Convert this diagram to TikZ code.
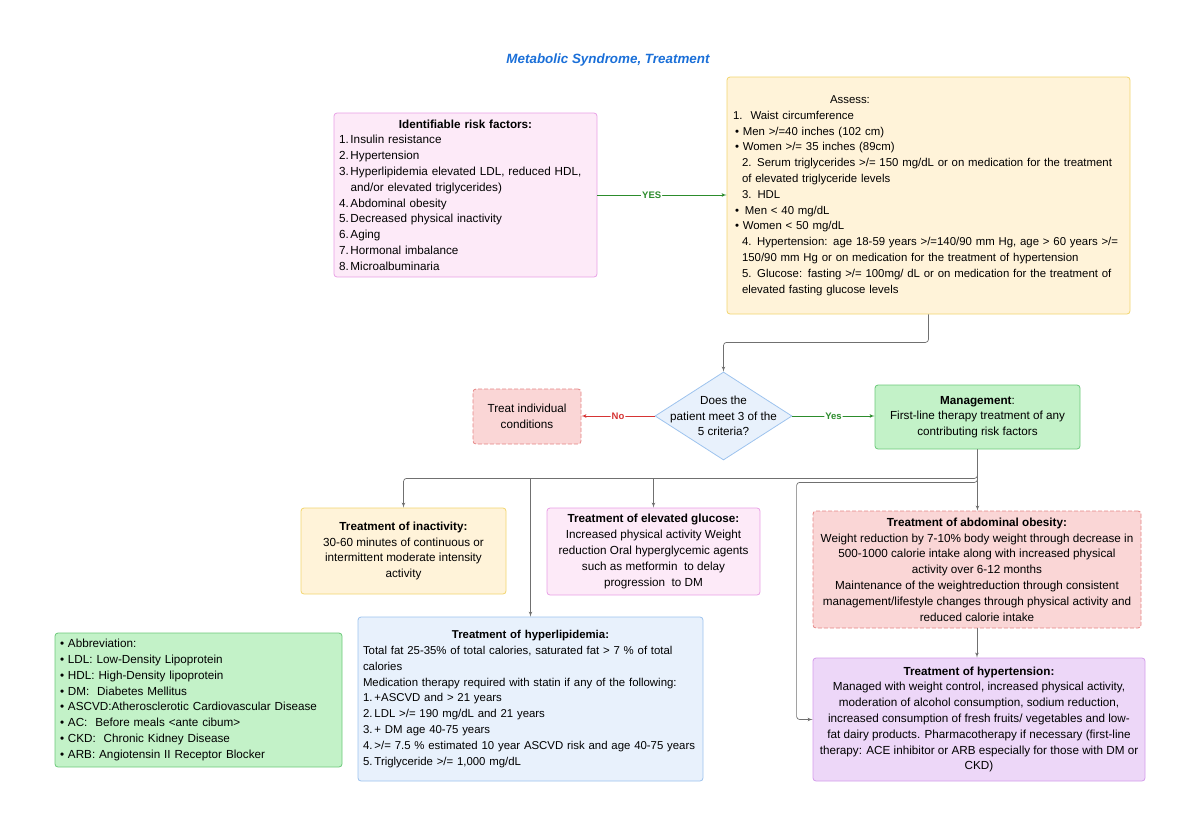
\documentclass[tikz,border=0pt]{standalone}
\usepackage{fontspec}
\setmainfont{Liberation Sans}
\usepackage{tikz}
\usetikzlibrary{shapes,arrows,calc}
\definecolor{creamfill}{HTML}{FFF3D9}
\definecolor{creamline}{HTML}{F2D56E}
\definecolor{pinkfill}{HTML}{FDEAF8}
\definecolor{pinkline}{HTML}{E9A0E6}
\definecolor{redfill}{HTML}{FAD6D6}
\definecolor{redline}{HTML}{E58585}
\definecolor{greenfill}{HTML}{C3F2C8}
\definecolor{greenline}{HTML}{6CC97A}
\definecolor{bluefill}{HTML}{E8F1FC}
\definecolor{blueline}{HTML}{9DC3EE}
\definecolor{purplefill}{HTML}{EDD7F8}
\definecolor{purpleline}{HTML}{D49DEB}
\definecolor{titleblue}{HTML}{1A6FD8}
\definecolor{yesgreen}{HTML}{2C8C2C}
\definecolor{nored}{HTML}{D63434}
\definecolor{edgegray}{HTML}{707070}
\newcommand{\bodyfont}{\fontsize{11.7}{15.8}\selectfont}
\newcommand{\listfont}{\fontsize{11.4}{15.8}\selectfont}
\newcommand{\itm}[1]{\makebox[11.5pt][l]{#1}}
\tikzstyle{block} = [rectangle, draw, line width=0.8pt, rounded corners=3pt,
    inner xsep=5pt, inner ysep=2pt, font=\bodyfont]
\tikzstyle{creamblock} = [block, fill=creamfill, draw=creamline]
\tikzstyle{pinkblock} = [block, fill=pinkfill, draw=pinkline]
\tikzstyle{redblock} = [block, fill=redfill, draw=redline, dashed, dash pattern=on 4pt off 2pt]
\tikzstyle{greenblock} = [block, fill=greenfill, draw=greenline]
\tikzstyle{blueblock} = [block, fill=bluefill, draw=blueline]
\tikzstyle{purpleblock} = [block, fill=purplefill, draw=purpleline]
\tikzstyle{decision} = [diamond, aspect=1.55, draw=blueline, fill=bluefill, line width=0.8pt,
    inner sep=-7pt, align=center, font=\bodyfont]
\tikzstyle{line} = [draw, -latex', line width=0.7pt, edgegray, rounded corners=3pt]
\tikzstyle{yesline} = [line, yesgreen]
\tikzstyle{noline} = [line, nored]
\tikzstyle{lbl} = [fill=white, inner sep=1pt, font=\fontsize{9.5}{10}\selectfont\bfseries]
\begin{document}
\begin{tikzpicture}[x=1pt, y=-1pt]
    \useasboundingbox (0,0) rectangle (1200,836);
    % Place nodes
    \node [font=\fontsize{13.4}{15}\selectfont\bfseries\itshape, text=titleblue] (title) at (608,60) {Metabolic Syndrome, Treatment};
    \node [pinkblock, minimum width=263pt, text width=253pt, minimum height=164pt, align=left] (risk) at (465.5,195)
        {\makebox[\hsize]{\bfseries Identifiable risk factors:}\\
        \itm{1.}Insulin resistance\\
        \itm{2.}Hypertension\\
        \itm{3.}Hyperlipidemia elevated LDL, reduced HDL,\\
        \itm{}and/or elevated triglycerides)\\
        \itm{4.}Abdominal obesity\\
        \itm{5.}Decreased physical inactivity\\
        \itm{6.}Aging\\
        \itm{7.}Hormonal imbalance\\
        \itm{8.}Microalbuminaria};
    \node [creamblock, font=\listfont, minimum width=403pt, text width=391pt, inner xsep=6pt, minimum height=237pt, align=left] (assess) at (928.5,195.5)
        {\hspace*{97pt}Assess:\\
        1.\hspace{8pt}Waist circumference\\
        \hspace*{2pt}\textbullet{} Men >/=40 inches (102 cm)\\
        \hspace*{2pt}\textbullet{} Women >/= 35 inches (89cm)\\
        \hspace*{9pt}2. Serum triglycerides >/= 150 mg/dL or on medication for the treatment\\
        \hspace*{9pt}of elevated triglyceride levels\\
        \hspace*{9pt}3.\hspace{6pt}HDL\\
        \hspace*{2pt}\textbullet{}\hspace{6pt}Men < 40 mg/dL\\
        \hspace*{2pt}\textbullet{} Women < 50 mg/dL\\
        \hspace*{9pt}\mbox{4. Hypertension: age 18-59 years >/=140/90 mm Hg, age > 60 years >/=}\\
        \hspace*{9pt}150/90 mm Hg or on medication for the treatment of hypertension\\
        \hspace*{9pt}5. Glucose: fasting >/= 100mg/ dL or on medication for the treatment of\\
        \hspace*{9pt}elevated fasting glucose levels};
    \node [decision, minimum width=137pt, minimum height=88pt] (dia) at (723.5,416) {Does the\\patient meet 3 of the\\5 criteria?};
    \node [redblock, minimum width=108pt, minimum height=55pt, align=center] (treat) at (527,416.5) {Treat individual\\conditions};
    \node [greenblock, minimum width=205pt, minimum height=64pt, align=center] (mgmt) at (977.5,417)
        {\textbf{Management}:\\First-line therapy treatment of any\\contributing risk factors};
    \node [creamblock, minimum width=205pt, minimum height=86pt, align=center] (inact) at (403.5,551)
        {\textbf{Treatment of inactivity:}\\30-60 minutes of continuous or\\intermittent moderate intensity\\activity};
    \node [pinkblock, minimum width=213pt, minimum height=87pt, align=center] (gluc) at (653.5,551.5)
        {\textbf{Treatment of elevated glucose:}\\Increased physical activity Weight\\reduction Oral hyperglycemic agents\\such as metformin\ \ to delay\\progression\ \ to DM};
    \node [redblock, minimum width=328pt, inner xsep=2pt, minimum height=117pt, align=center] (obes) at (977,569.5)
        {\textbf{Treatment of abdominal obesity:}\\Weight reduction by 7-10\% body weight through decrease in\\500-1000 calorie intake along with increased physical\\activity over 6-12 months\\Maintenance of the weightreduction through consistent\\management/lifestyle changes through physical activity and\\reduced calorie intake};
    \node [blueblock, font=\listfont, minimum width=345pt, text width=337pt, inner xsep=4pt, minimum height=164pt, align=left] (hyper) at (530.5,699)
        {\makebox[\hsize]{\bfseries Treatment of hyperlipidemia:}\\
        \hspace*{1pt}Total fat 25-35\% of total calories, saturated fat > 7 \% of total\\
        \hspace*{1pt}calories\\
        \hspace*{1pt}Medication therapy required with statin if any of the following:\\
        \hspace*{1pt}\itm{1.}+ASCVD and > 21 years\\
        \hspace*{1pt}\itm{2.}LDL >/= 190 mg/dL and 21 years\\
        \hspace*{1pt}\itm{3.}+ DM age 40-75 years\\
        \hspace*{1pt}\mbox{\itm{4.}>/= 7.5 \% estimated 10 year ASCVD risk and age 40-75 years}\\
        \hspace*{1pt}\itm{5.}Triglyceride >/= 1,000 mg/dL};
    \node [purpleblock, minimum width=332pt, inner xsep=3pt, minimum height=123pt, align=center] (htn) at (979,719.5)
        {\textbf{Treatment of hypertension:}\\Managed with weight control, increased physical activity,\\moderation of alcohol consumption, sodium reduction,\\increased consumption of fresh fruits/ vegetables and low-\\fat dairy products. Pharmacotherapy if necessary (first-line\\therapy: ACE inhibitor or ARB especially for those with DM or\\CKD)};
    \node [greenblock, minimum width=287pt, text width=277pt, minimum height=134pt, align=left] (abbr) at (198.5,700)
        {\textbullet{} Abbreviation:\\
        \textbullet{} LDL: Low-Density Lipoprotein\\
        \textbullet{} HDL: High-Density lipoprotein\\
        \textbullet{} DM:\ \ Diabetes Mellitus\\
        \textbullet{} ASCVD:Atherosclerotic Cardiovascular Disease\\
        \textbullet{} AC:\ \ Before meals <ante cibum>\\
        \textbullet{} CKD:\ \ Chronic Kidney Disease\\
        \textbullet{} ARB: Angiotensin II Receptor Blocker};
    % Draw edges
    \path [yesline] (risk.east) -- node[lbl, text=yesgreen, pos=0.42] {YES} (risk.east -| assess.west);
    \path [line] (assess.south) -- ++(0,28) -| (dia.north);
    \path [noline] (dia.west) -- node[lbl, text=nored] {No} (dia.west -| treat.east);
    \path [yesline] (dia.east) -- node[lbl, text=yesgreen] {Yes} (dia.east -| mgmt.west);
    \coordinate (bus) at ($(mgmt.south)+(0,29)$);
    \path [line] (mgmt.south) -- (bus) -| (inact.north);
    \path [line] (bus) -- (bus |- obes.north);
    \path [line] (bus -| gluc.north) -- (gluc.north);
    \path [line] (bus -| hyper.north) -- (hyper.north);
    \path [line] (mgmt.south) -- ++(0,33) -| ([xshift=-16pt]htn.west) -- (htn.west);
    \path [line] (obes.south) -- (obes.south |- htn.north);
\end{tikzpicture}
\end{document}
